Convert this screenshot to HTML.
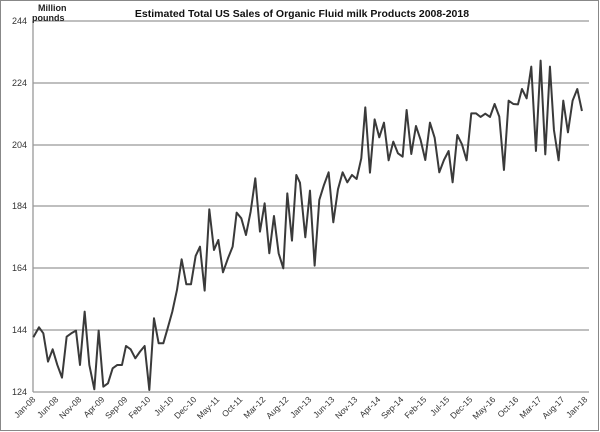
<!DOCTYPE html>
<html><head><style>
body{margin:0;background:#fff;}
svg{display:block;font-family:"Liberation Sans",sans-serif;}
</style></head><body>
<svg width="600" height="432" viewBox="0 0 600 432">
<rect x="0.5" y="0.5" width="598" height="430" fill="#fff" stroke="#888"/>
<g stroke="#999" stroke-width="1.3">
<line x1="33" y1="21" x2="589" y2="21"/>
<line x1="33" y1="83" x2="589" y2="83"/>
<line x1="33" y1="145" x2="589" y2="145"/>
<line x1="33" y1="206" x2="589" y2="206"/>
<line x1="33" y1="268" x2="589" y2="268"/>
<line x1="33" y1="330" x2="589" y2="330"/>
<line x1="33" y1="392" x2="589" y2="392"/>
<line x1="33" y1="21" x2="33" y2="392"/>
</g>
<g font-size="9" fill="#333" text-anchor="end">
<text x="27" y="24">244</text><text x="27" y="86">224</text><text x="27" y="148">204</text>
<text x="27" y="209">184</text><text x="27" y="271">164</text><text x="27" y="333">144</text><text x="27" y="395">124</text>
</g>
<text x="38" y="11" font-size="9" font-weight="bold" fill="#222">Million</text>
<text x="32" y="21" font-size="9" font-weight="bold" fill="#222">pounds</text>
<text x="302" y="17" font-size="10.5" font-weight="bold" fill="#111" text-anchor="middle">Estimated Total US Sales of Organic Fluid milk Products 2008-2018</text>
<g transform="scale(0.3333)">
<polyline fill="none" stroke="#3a3a3a" stroke-width="6" stroke-linejoin="round" points="100,1012 117,982 130,1000 144,1085 158,1048 172,1095 186,1133 200,1010 214,1000 228,992 240,1095 254,935 268,1095 283,1168 296,992 310,1160 324,1150 338,1105 352,1095 366,1095 378,1038 392,1048 406,1075 420,1055 434,1038 448,1170 462,955 476,1030 490,1030 503,985 517,935 531,870 545,778 559,853 573,853 587,768 600,740 614,872 628,628 642,750 655,720 669,817 684,775 698,740 710,638 724,655 738,705 752,635 766,535 780,695 794,610 808,760 822,648 836,760 850,805 862,580 876,722 889,525 900,548 916,712 930,572 944,797 958,600 972,555 986,517 1000,667 1014,568 1028,517 1042,547 1056,525 1070,537 1084,475 1096,322 1110,518 1124,358 1138,412 1152,368 1166,481 1180,425 1194,460 1208,470 1220,330 1234,462 1248,378 1262,420 1276,480 1290,368 1304,413 1318,517 1332,480 1346,453 1358,547 1372,405 1386,433 1400,481 1414,340 1428,340 1442,351 1456,341 1470,351 1484,312 1498,350 1512,510 1526,302 1540,312 1554,313 1566,267 1580,295 1594,200 1608,453 1622,182 1636,463 1650,200 1662,390 1676,481 1690,302 1704,397 1718,302 1732,267 1746,333"/>
</g>
<g font-size="8.5" fill="#333" text-anchor="end">
<text transform="translate(36,400) rotate(-45)">Jan-08</text>
<text transform="translate(59,400) rotate(-45)">Jun-08</text>
<text transform="translate(82,400) rotate(-45)">Nov-08</text>
<text transform="translate(105,400) rotate(-45)">Apr-09</text>
<text transform="translate(128,400) rotate(-45)">Sep-09</text>
<text transform="translate(151,400) rotate(-45)">Feb-10</text>
<text transform="translate(174,400) rotate(-45)">Jul-10</text>
<text transform="translate(197,400) rotate(-45)">Dec-10</text>
<text transform="translate(220,400) rotate(-45)">May-11</text>
<text transform="translate(243,400) rotate(-45)">Oct-11</text>
<text transform="translate(266,400) rotate(-45)">Mar-12</text>
<text transform="translate(289,400) rotate(-45)">Aug-12</text>
<text transform="translate(312,400) rotate(-45)">Jan-13</text>
<text transform="translate(335,400) rotate(-45)">Jun-13</text>
<text transform="translate(358,400) rotate(-45)">Nov-13</text>
<text transform="translate(381,400) rotate(-45)">Apr-14</text>
<text transform="translate(404,400) rotate(-45)">Sep-14</text>
<text transform="translate(427,400) rotate(-45)">Feb-15</text>
<text transform="translate(450,400) rotate(-45)">Jul-15</text>
<text transform="translate(473,400) rotate(-45)">Dec-15</text>
<text transform="translate(496,400) rotate(-45)">May-16</text>
<text transform="translate(519,400) rotate(-45)">Oct-16</text>
<text transform="translate(542,400) rotate(-45)">Mar-17</text>
<text transform="translate(565,400) rotate(-45)">Aug-17</text>
<text transform="translate(588,400) rotate(-45)">Jan-18</text>
</g>
</svg>
</body></html>
